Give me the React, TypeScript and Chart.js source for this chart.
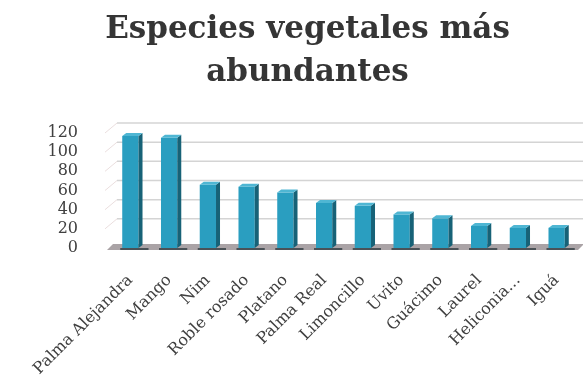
import React, { useEffect, useRef } from "react";
import { Chart, registerables } from "chart.js";

Chart.register(...registerables);

const categories = [
  "Palma Alejandra",
  "Mango",
  "Nim",
  "Roble rosado",
  "Platano",
  "Palma Real",
  "Limoncillo",
  "Uvito",
  "Guácimo",
  "Laurel",
  "Heliconia...",
  "Iguá",
];
const values = [117, 115, 66, 64, 58, 47, 44, 35, 31, 23, 21, 21];
const yTicks = [0, 20, 40, 60, 80, 100, 120];
const titleLines = ["Especies vegetales más", "abundantes"];

const WALL_DX = 12;
const WALL_DY = 10;
const BAR_DX = 4;
const BAR_DY = 3;

const titlePlugin = {
  id: "offsetTitle",
  afterDraw(chart: any) {
    const { ctx } = chart;
    ctx.save();
    ctx.font = "bold 31px 'DejaVu Serif', serif";
    ctx.fillStyle = "#353535";
    ctx.textAlign = "center";
    ctx.textBaseline = "alphabetic";
    const cx = chart.width / 2 + 16;
    ctx.fillText(titleLines[0], cx, 38);
    ctx.fillText(titleLines[1], cx, 81);
    ctx.restore();
  },
};

const threeD = {
  id: "threeD",
  beforeDatasetsDraw(chart: any) {
    const { ctx, chartArea } = chart;
    const y = chart.scales.y;
    const left = chartArea.left;
    const right = chartArea.right;
    const base = y.getPixelForValue(0);
    ctx.save();
    for (const v of yTicks) {
      if (v === 0) continue;
      const yf = y.getPixelForValue(v);
      ctx.beginPath();
      ctx.moveTo(left - 6, yf);
      ctx.lineTo(left + WALL_DX - 6, yf - WALL_DY);
      ctx.strokeStyle = "#eadede";
      ctx.lineWidth = 1;
      ctx.stroke();
      ctx.beginPath();
      ctx.moveTo(left + WALL_DX - 6, yf - WALL_DY);
      ctx.lineTo(chart.width, yf - WALL_DY);
      ctx.strokeStyle = "#d4d4d4";
      ctx.lineWidth = 1.5;
      ctx.stroke();
    }
    ctx.beginPath();
    ctx.moveTo(left - 4, base + 2);
    ctx.lineTo(left + 2, base - 4);
    ctx.lineTo(right + 8, base - 4);
    ctx.lineTo(right + 2, base + 2);
    ctx.closePath();
    ctx.fillStyle = "#aaa3a6";
    ctx.fill();
    ctx.restore();
  },
  afterDatasetsDraw(chart: any) {
    const { ctx } = chart;
    const meta = chart.getDatasetMeta(0);
    ctx.save();
    for (const bar of meta.data) {
      const { x, y, base, width } = bar.getProps(["x", "y", "base", "width"], true);
      const l = x - width / 2;
      const r = x + width / 2;
      ctx.beginPath();
      ctx.moveTo(r, y);
      ctx.lineTo(r + BAR_DX, y - BAR_DY);
      ctx.lineTo(r + BAR_DX, base - BAR_DY);
      ctx.lineTo(r, base);
      ctx.closePath();
      ctx.fillStyle = "#176277";
      ctx.fill();
      ctx.beginPath();
      ctx.moveTo(l, y);
      ctx.lineTo(l + BAR_DX, y - BAR_DY);
      ctx.lineTo(r + BAR_DX, y - BAR_DY);
      ctx.lineTo(r, y);
      ctx.closePath();
      ctx.fillStyle = "#4fb6d3";
      ctx.fill();
      ctx.beginPath();
      ctx.moveTo(l - 2, base + 1);
      ctx.lineTo(r + BAR_DX + 6, base + 1);
      ctx.strokeStyle = "#4a5257";
      ctx.lineWidth = 2;
      ctx.stroke();
    }
    ctx.restore();
  },
};

export default function App() {
  const ref = useRef<HTMLCanvasElement>(null);
  useEffect(() => {
    document.body.style.margin = "0";
    const chart = new Chart(ref.current!, {
      type: "bar",
      data: {
        labels: categories,
        datasets: [
          {
            data: values,
            backgroundColor: "#2a9ec0",
            barPercentage: 0.42,
            categoryPercentage: 1,
          },
        ],
      },
      options: {
        responsive: false,
        animation: false,
        layout: { padding: { left: 8, right: 7, top: 133, bottom: 8 } },
        plugins: {
          legend: { display: false },
          tooltip: { enabled: false },
          title: { display: false },
        },
        scales: {
          x: {
            grid: { display: false },
            border: { display: false },
            ticks: {
              color: "#404040",
              font: { family: "'DejaVu Serif', serif", size: 16 },
              maxRotation: 45,
              minRotation: 45,
              autoSkip: false,
              padding: 15,
            },
            afterFit: (s: any) => {
              s.height = 132;
              s.paddingLeft = 0;
              s.paddingRight = 0;
            },
          },
          y: {
            min: 0,
            max: 120,
            grid: { display: false },
            border: { display: false },
            ticks: {
              stepSize: 20,
              autoSkip: false,
              color: "#404040",
              font: { family: "'DejaVu Serif', serif", size: 16 },
              padding: 25,
            },
            afterFit: (s: any) => {
              s.width = 103;
            },
          },
        },
      },
      plugins: [threeD, titlePlugin],
    });
    return () => chart.destroy();
  }, []);
  return (
    <div style={{ width: 583, height: 388 }}>
      <canvas ref={ref} width={583} height={388} style={{ display: "block" }} />
    </div>
  );
}
